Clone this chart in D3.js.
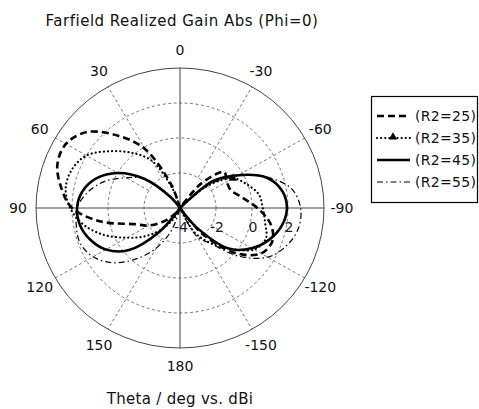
<!DOCTYPE html>
<html>
<head>
<meta charset="utf-8">
<script src="https://cdn.jsdelivr.net/npm/d3@7"></script>
<style>
  body { margin: 0; background: #fff; }
  text { font-family: "DejaVu Sans", Verdana, sans-serif; fill: #111; }
</style>
</head>
<body>
<div id="chart"></div>
<script>
// theta in degrees (positive = left side), gain in dBi
var theta = d3.range(-180, 180, 10);
var gainR25 = [-6, -6, -6, -4.5, -2.1, 0.0, 1.2, 1.47, 1.1, 0.3, -0.5, -1.0, -1.0, -0.8, -2.2, -4.5, -6, -6,
               -6, -5, -2.6, -0.1, 1.4, 2.75, 3.32, 3.25, 2.7, 2.0, 0.45, -1.3, -2.0, -2.8, -3.6, -5, -6, -6];
var gainR35 = [-6, -6, -4.5, -2.4, -1.4, -0.4, 0.75, 1.08, 0.8, 0.6, 0.45, -0.05, -0.6, -2.1, -4.5, -6, -6, -6,
               -6, -5, -2.9, -0.9, 0.1, 1.05, 2.0, 2.4, 2.45, 2.1, 1.45, 0.5, -0.6, -1.5, -2.4, -3.3, -4.5, -6];
var gainR45 = [-6, -6, -6, -4.5, -2.5, -0.35, 0.6, 1.28, 1.75, 1.94, 1.75, 1.1, -0.25, -1.6, -4.5, -6, -6, -6,
               -6, -6, -6, -4.5, -3.2, -1.4, 0.0, 0.95, 1.5, 1.72, 1.64, 1.3, 0.75, -0.24, -2.25, -4.2, -6, -6];
var gainR55 = [-6, -6, -4.0, -2.1, -1.35, 0.3, 1.62, 2.3, 2.68, 2.7, 2.3, 1.15, -0.3, -2.0, -4.5, -6, -6, -6,
               -6, -6, -6, -4.5, -3.0, -1.4, -0.55, 0.45, 1.2, 1.72, 1.85, 1.9, 1.58, 0.87, -0.2, -1.35, -2.65, -4.5];
var seriesNames = ["(R2=25)", "(R2=35)", "(R2=45)", "(R2=55)"];
var radialTicks = [-4, -2, 0, 2];
var angleTicks = [0, 30, 60, 90, 120, 150, 180, -150, -120, -90, -60, -30];

var width = 479, height = 409,
    cx = 180, cy = 208,
    rx = 144, ry = 140; // el grafico original esta un poco achatado

var svg = d3.select("#chart")
            .append("svg")
            .attr("width", width)
            .attr("height", height);

svg.append("rect").attr("width", width).attr("height", height).attr("fill", "#fff");

var rScale = d3.scaleLinear()
               .domain([-4, 4])
               .range([0, 1])
               .clamp(true);

var rad = d => d * Math.PI / 180;
function px(t, v) { return cx - rx * rScale(v) * Math.sin(rad(t)); }
function py(t, v) { return cy - ry * rScale(v) * Math.cos(rad(t)); }

// rejilla
var grid = svg.append("g");

grid.selectAll(".ring")
    .data([-2, 0, 2])
    .enter().append("ellipse")
    .attr("cx", cx).attr("cy", cy)
    .attr("rx", d => rx * rScale(d))
    .attr("ry", d => ry * rScale(d))
    .attr("fill", "none")
    .attr("stroke", "#555")
    .attr("stroke-width", 0.8)
    .attr("stroke-dasharray", "3,2.5");

grid.selectAll(".spoke")
    .data([30, 60, 120, 150, -30, -60, -120, -150])
    .enter().append("line")
    .attr("x1", d => px(d, -2)).attr("y1", d => py(d, -2))
    .attr("x2", d => px(d, 4)).attr("y2", d => py(d, 4))
    .attr("stroke", "#555")
    .attr("stroke-width", 0.8)
    .attr("stroke-dasharray", "3,2.5");

grid.selectAll(".axis")
    .data([0, 90])
    .enter().append("line")
    .attr("x1", d => px(d, 4)).attr("y1", d => py(d, 4))
    .attr("x2", d => px(d + 180, 4)).attr("y2", d => py(d + 180, 4))
    .attr("stroke", "#444")
    .attr("stroke-width", 1);

grid.append("ellipse")
    .attr("cx", cx).attr("cy", cy)
    .attr("rx", rx).attr("ry", ry)
    .attr("fill", "none")
    .attr("stroke", "#444")
    .attr("stroke-width", 1);

// etiquetas de angulo
svg.selectAll(".alabel")
   .data(angleTicks)
   .enter().append("text")
   .attr("x", d => cx - (rx + 18) * Math.sin(rad(d)))
   .attr("y", d => cy - (ry + 18) * Math.cos(rad(d)))
   .attr("text-anchor", "middle")
   .attr("dominant-baseline", "central")
   .style("font-size", "14px")
   .text(d => d);

// etiquetas radiales
svg.selectAll(".rlabel")
   .data(radialTicks)
   .enter().append("text")
   .attr("x", d => px(-90, d) + 1)
   .attr("y", cy + 19)
   .attr("text-anchor", "middle")
   .attr("dominant-baseline", "central")
   .style("font-size", "14px")
   .style("fill", "#1a1a1a")
   .text(d => d);

// curvas
var styles = [
  {w: 2.6, dash: "7,4", cap: "butt"},
  {w: 2.2, dash: "0.1,4", cap: "round"},
  {w: 2.6, dash: null, cap: "butt"},
  {w: 1.2, dash: "6,3,1.5,3", cap: "butt"}
];
var gains = [gainR25, gainR35, gainR45, gainR55];

var line = d3.line()
             .x(d => px(d[0], d[1]))
             .y(d => py(d[0], d[1]))
             .curve(d3.curveCatmullRomClosed.alpha(0.5));

svg.selectAll(".curve")
   .data(gains)
   .enter().append("path")
   .attr("d", g => line(theta.map((t, i) => [t, g[i]])))
   .attr("fill", "none")
   .attr("stroke", "#000")
   .attr("stroke-width", (g, i) => styles[i].w)
   .attr("stroke-dasharray", (g, i) => styles[i].dash)
   .attr("stroke-linecap", (g, i) => styles[i].cap);

var tri = d3.symbol().type(d3.symbolTriangle).size(30);
var mi = theta.indexOf(-60);
svg.append("path")
   .attr("d", tri)
   .attr("transform", "translate(" + px(-60, gainR35[mi]) + "," + py(-60, gainR35[mi]) + ")")
   .attr("fill", "#000");

// titulos
svg.append("text")
   .attr("x", 182).attr("y", 21)
   .attr("text-anchor", "middle")
   .attr("dominant-baseline", "central")
   .style("font-size", "15px")
   .style("letter-spacing", "0.5px")
   .text("Farfield Realized Gain Abs (Phi=0)");

svg.append("text")
   .attr("x", 180).attr("y", 399)
   .attr("text-anchor", "middle")
   .attr("dominant-baseline", "central")
   .style("font-size", "15px")
   .style("letter-spacing", "0.3px")
   .text("Theta / deg vs. dBi");

// leyenda
var legend = svg.append("g");
legend.append("rect")
      .attr("x", 371.5).attr("y", 96.5)
      .attr("width", 106).attr("height", 106)
      .attr("fill", "#fff")
      .attr("stroke", "#000")
      .attr("stroke-width", 1.2);

var rows = legend.selectAll(".row")
                 .data(seriesNames)
                 .enter().append("g")
                 .attr("transform", (d, i) => "translate(0," + (116 + i * 22) + ")");

rows.append("line")
    .attr("x1", 377).attr("x2", 410)
    .attr("stroke", "#000")
    .attr("stroke-width", (d, i) => styles[i].w)
    .attr("stroke-dasharray", (d, i) => styles[i].dash)
    .attr("stroke-linecap", (d, i) => styles[i].cap);

rows.filter((d, i) => i == 1)
    .append("path")
    .attr("d", tri)
    .attr("transform", "translate(393,-1)")
    .attr("fill", "#000");

rows.append("text")
    .attr("x", 415)
    .attr("dominant-baseline", "central")
    .style("font-size", "14px")
    .style("letter-spacing", "0.3px")
    .text(d => d);
</script>
</body>
</html>
